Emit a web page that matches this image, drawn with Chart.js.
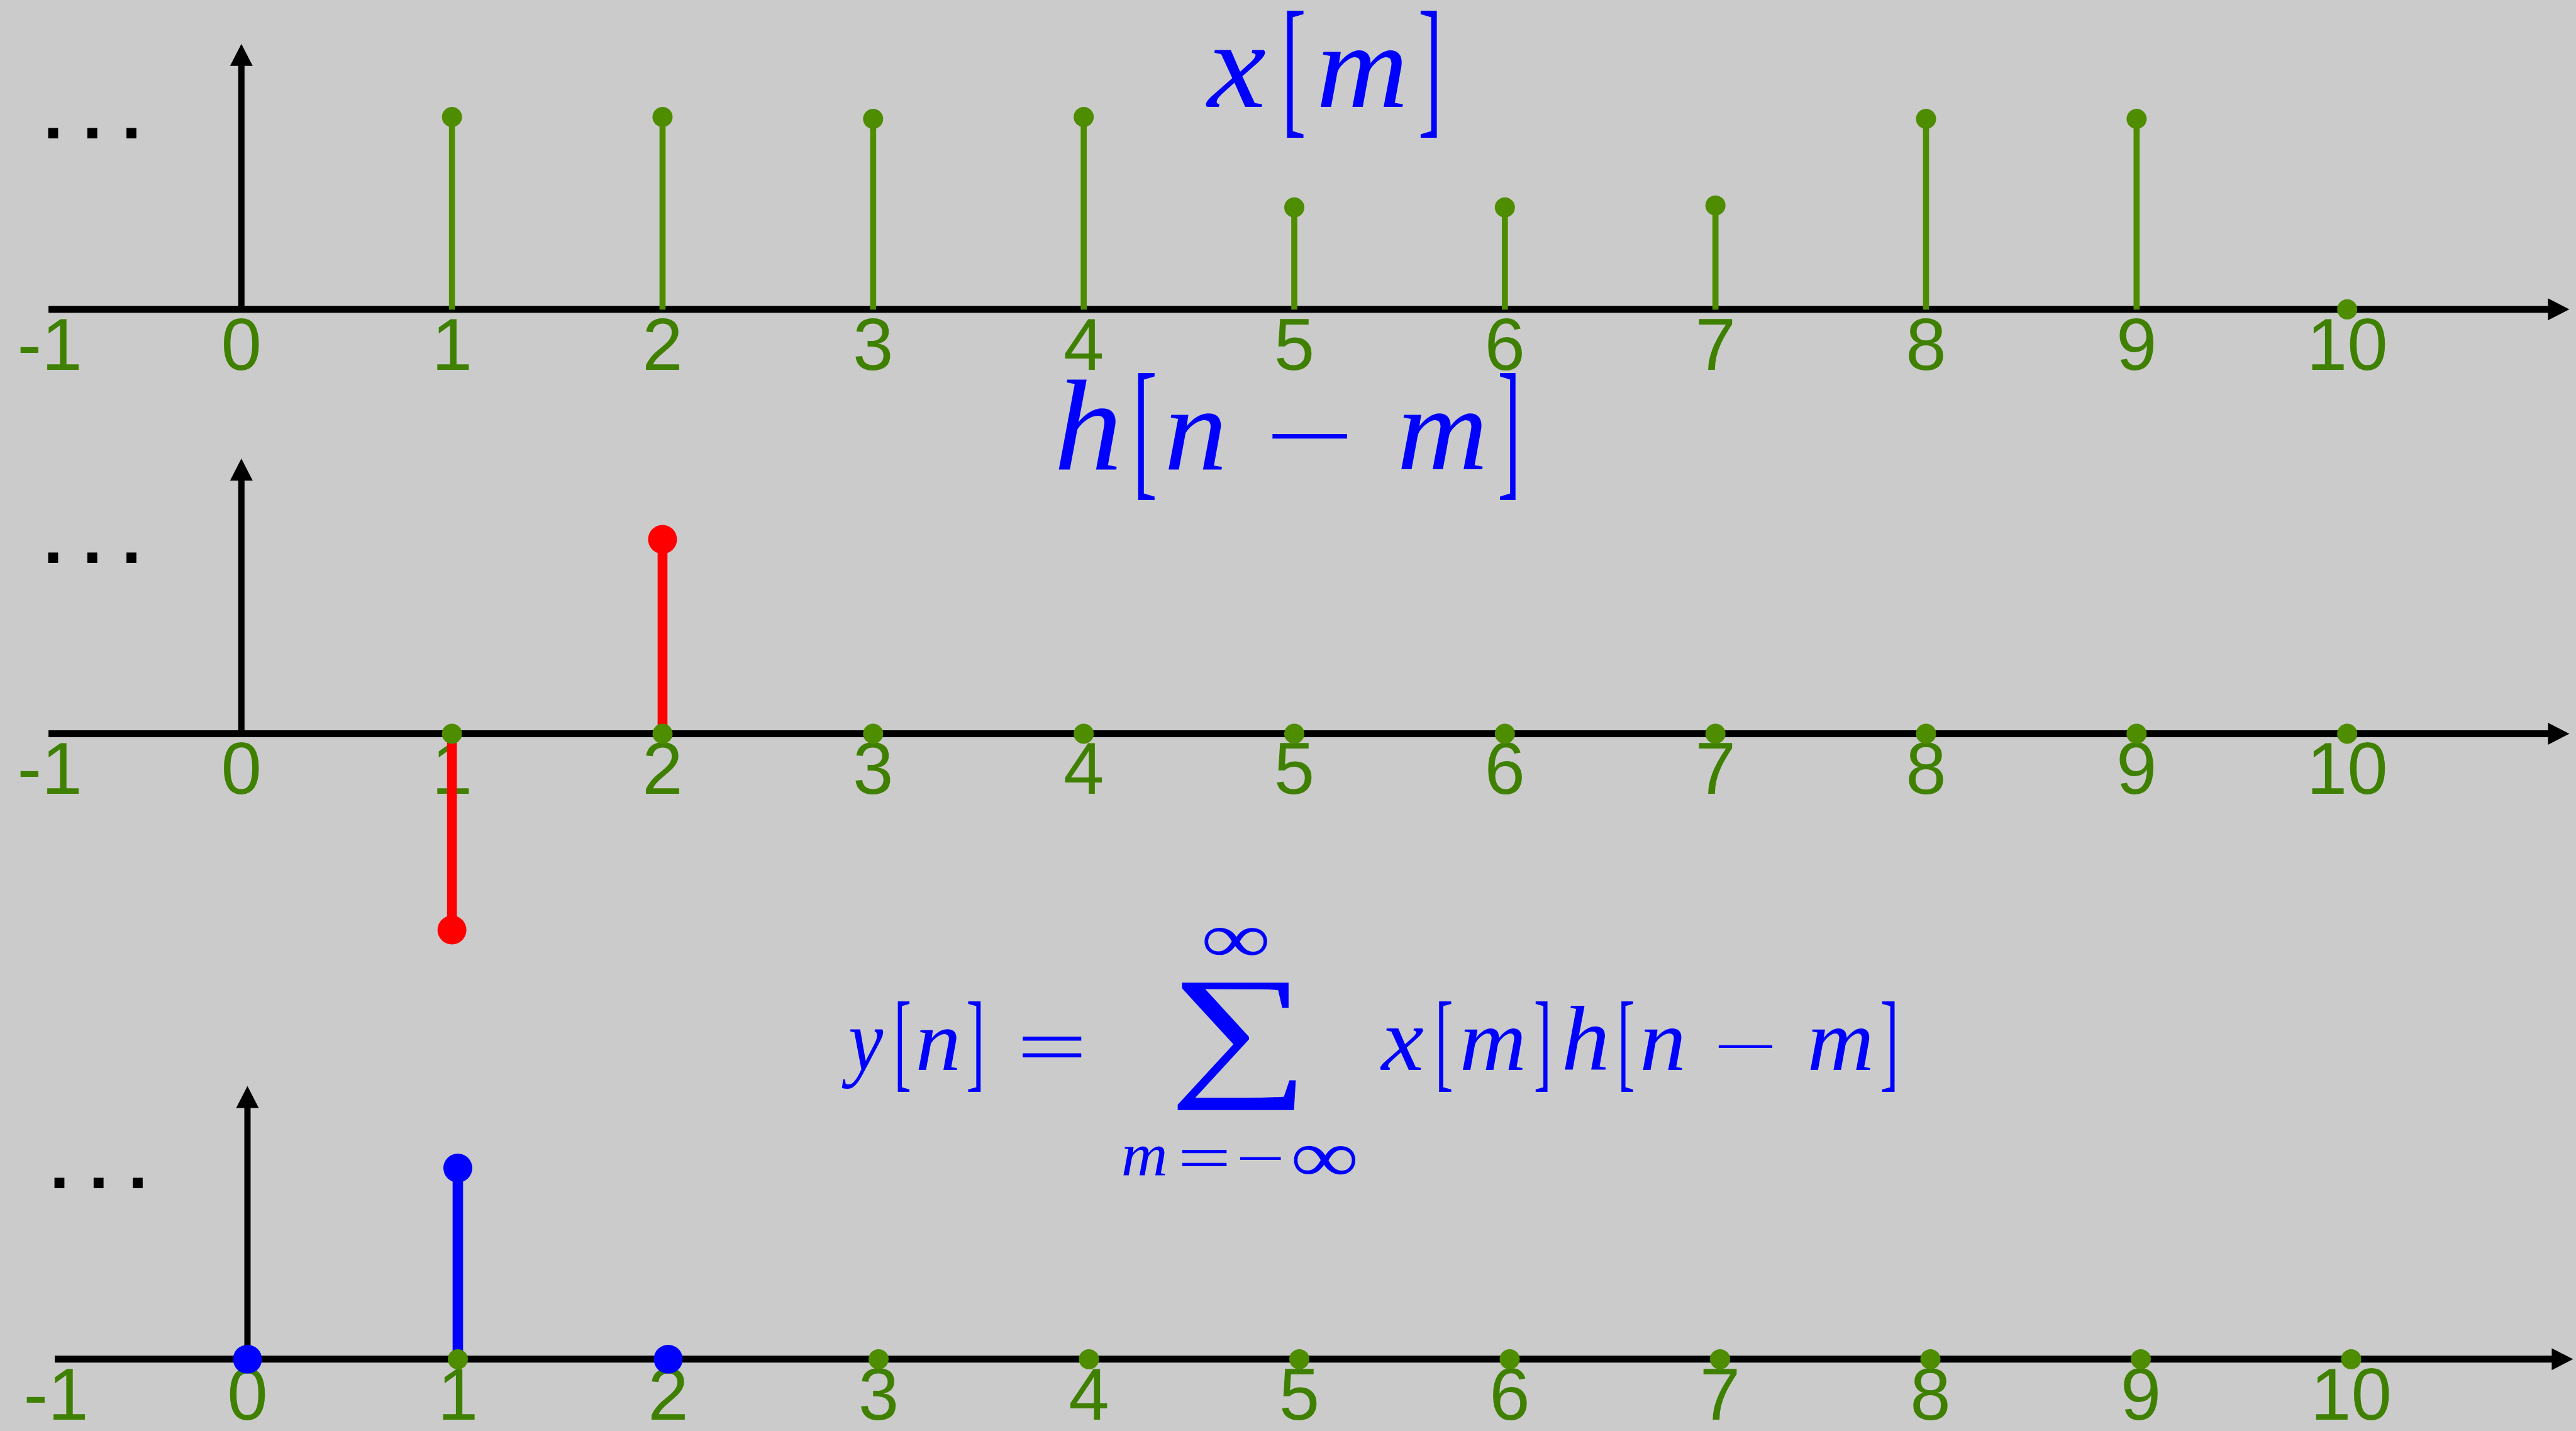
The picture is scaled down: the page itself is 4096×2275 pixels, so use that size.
<!DOCTYPE html>
<html>
<head>
<meta charset="utf-8">
<title>Convolution</title>
<script src="https://cdn.jsdelivr.net/npm/chart.js@4.4.0/dist/chart.umd.min.js"></script>
<style>
  html, body { margin: 0; padding: 0; background: #cbcbcb; overflow: hidden; }
  canvas { position: absolute; left: 0; top: 0; }
</style>
</head>
<body>
<canvas id="c1"></canvas>
<canvas id="c2"></canvas>
<canvas id="c3"></canvas>
<script>
// ---- data ----
const mIdx = [1, 2, 3, 4, 5, 6, 7, 8, 9, 10];
const xVals = [1.0, 1.0, 0.99, 1.0, 0.53, 0.53, 0.54, 0.99, 0.99, 0];
const zeroVals = [0, 0, 0, 0, 0, 0, 0, 0, 0, 0];
const hIdx = [1, 2];
const hVals = [-1.02, 1.01];
const yIdx = [0, 1, 2];
const yVals = [0, 1.0, 0];
const tickLabels = ['-1', '0', '1', '2', '3', '4', '5', '6', '7', '8', '9', '10'];
const tickPos = [-0.91, 0, 1, 2, 3, 4, 5, 6, 7, 8, 9, 10];

const GREEN = '#4e8c00';
const LABEL_GREEN = '#3f8000';
const W = window.innerWidth, H = window.innerHeight;
const S = W / 4098;          // reference pixel -> page pixel
const UNIT = 306;            // reference pixels per y unit
const STEP = 335;            // reference pixels per x unit

// formula glyphs: text, italic, ink box in reference pixels
const formulaGlyphs = [
  ['x', 1, 1915, 79, 2016, 170], ['[', 0, 2047, 17, 2074, 219],
  ['m', 1, 2086, 79, 2248, 170], [']', 0, 2260, 17, 2286, 219],

  ['h', 1, 1680, 603, 1781, 746], ['[', 0, 1810, 593, 1837, 795],
  ['n', 1, 1848, 656, 1955, 746], ['\u2212', 0, 2023, 690, 2144, 698],
  ['m', 1, 2211, 656, 2378, 746], [']', 0, 2386, 593, 2411, 795],

  ['y', 1, 1339, 1637, 1405, 1732], ['[', 0, 1428, 1593, 1447, 1737],
  ['n', 1, 1452, 1637, 1532, 1702], [']', 0, 1540, 1593, 1560, 1737],
  ['=', 0, 1626, 1649, 1721, 1682], ['\u2211', 0, 1872, 1563, 2062, 1766],
  ['\u221e', 0, 1916, 1476, 2016, 1520],
  ['m', 1, 1774, 1823, 1867, 1869], ['=', 0, 1880, 1830, 1952, 1856],
  ['\u2212', 0, 1972, 1840, 2038, 1845], ['\u221e', 0, 2058, 1823, 2156, 1869],
  ['x', 1, 2193, 1636, 2267, 1702], ['[', 0, 2289, 1593, 2309, 1737],
  ['m', 1, 2316, 1636, 2434, 1702], [']', 0, 2443, 1593, 2462, 1737],
  ['h', 1, 2486, 1601, 2558, 1702], ['[', 0, 2579, 1593, 2598, 1737],
  ['n', 1, 2606, 1636, 2684, 1702], ['\u2212', 0, 2733, 1662, 2820, 1667],
  ['m', 1, 2868, 1636, 2988, 1702], [']', 0, 2994, 1593, 3014, 1737]
];

function pts(xs, ys) { return xs.map((x, i) => ({ x: x, y: ys[i] })); }

// draw a glyph so its ink fills the given box; italic letters keep their proportions
function fitGlyph(ctx, g) {
  const [t, it, x0, y0, x1, y1] = g;
  ctx.font = (it ? 'italic ' : '') + '200px "Liberation Serif", "DejaVu Serif", serif';
  const mm = ctx.measureText(t);
  const w = mm.actualBoundingBoxLeft + mm.actualBoundingBoxRight;
  const h = mm.actualBoundingBoxAscent + mm.actualBoundingBoxDescent;
  const sy = (y1 - y0) * S / h;
  let sx = (x1 - x0) * S / w;
  let left = x0 * S;
  if (it) {
    sx = Math.min(sx, sy * 1.06);
    left = (x0 + x1) / 2 * S - w * sx / 2;
  }
  ctx.save();
  ctx.translate(left + mm.actualBoundingBoxLeft * sx, y0 * S + mm.actualBoundingBoxAscent * sy);
  ctx.scale(sx, sy);
  ctx.fillText(t, 0, 0);
  ctx.restore();
}

function axesPlugin(p) {
  return {
    id: 'stemAxes',
    beforeDatasetsDraw(chart) {
      const ctx = chart.ctx, x = chart.scales.x, y = chart.scales.y;
      const y0 = y.getPixelForValue(0), x0 = x.getPixelForValue(0);
      ctx.save();
      ctx.fillStyle = '#000';
      ctx.strokeStyle = '#000';
      // horizontal axis with arrow
      const xa = x.getPixelForValue(-0.916), xb = x.getPixelForValue(11.055);
      ctx.lineWidth = 11 * S;
      ctx.beginPath(); ctx.moveTo(xa, y0); ctx.lineTo(xb - 33 * S, y0); ctx.stroke();
      ctx.beginPath();
      ctx.moveTo(xb, y0); ctx.lineTo(xb - 34 * S, y0 - 17.5 * S); ctx.lineTo(xb - 34 * S, y0 + 17.5 * S);
      ctx.closePath(); ctx.fill();
      // vertical axis with arrow
      const yt = y.getPixelForValue(p.yTop);
      ctx.lineWidth = 10 * S;
      ctx.beginPath(); ctx.moveTo(x0, y0); ctx.lineTo(x0, yt + 34 * S); ctx.stroke();
      ctx.beginPath();
      ctx.moveTo(x0, yt); ctx.lineTo(x0 - 18 * S, yt + 35 * S); ctx.lineTo(x0 + 18 * S, yt + 35 * S);
      ctx.closePath(); ctx.fill();
      // tick labels
      ctx.font = (116 * S) + 'px "Liberation Sans", Arial, sans-serif';
      ctx.fillStyle = LABEL_GREEN;
      ctx.textAlign = 'center';
      ctx.textBaseline = 'alphabetic';
      tickPos.forEach((v, i) => ctx.fillText(tickLabels[i], x.getPixelForValue(v), y0 + 96 * S));
      // ellipsis
      ctx.font = 'bold ' + (112 * S) + 'px "Liberation Sans", Arial, sans-serif';
      ctx.fillStyle = '#000';
      ctx.textAlign = 'left';
      ctx.fillText('. . .', x.getPixelForValue(-0.94), y0 - 272 * S);
      ctx.restore();
    }
  };
}

const formulaPlugin = {
  id: 'formulas',
  afterDatasetsDraw(chart) {
    const ctx = chart.ctx;
    ctx.save();
    ctx.fillStyle = '#0000ff';
    ctx.textAlign = 'left';
    ctx.textBaseline = 'alphabetic';
    formulaGlyphs.forEach(g => fitGlyph(ctx, g));
    ctx.restore();
  }
};

function stems(xs, ys, color, width, order) {
  return { type: 'bar', data: pts(xs, ys), backgroundColor: color, borderWidth: 0,
           barThickness: width * S, grouped: false, order: order };
}
function dots(xs, ys, color, r, order) {
  return { type: 'scatter', data: pts(xs, ys), pointRadius: r * S, pointHoverRadius: r * S,
           pointBackgroundColor: color, pointBorderWidth: 0, showLine: false, order: order };
}

function makePanel(id, p, datasets, extra) {
  const cv = document.getElementById(id);
  cv.width = W; cv.height = H;
  const left = p.zeroX - STEP, right = p.zeroX + 11 * STEP;
  const top = p.zeroY - p.yMax * UNIT, bottom = p.zeroY - p.yMin * UNIT;
  return new Chart(cv, {
    type: 'scatter',
    data: { datasets: datasets },
    options: {
      responsive: false,
      animation: false,
      devicePixelRatio: 1,
      events: [],
      layout: { padding: { left: left * S, right: (4098 - right) * S, top: top * S, bottom: (2276 - bottom) * S } },
      plugins: { legend: { display: false }, tooltip: { enabled: false } },
      scales: {
        x: { type: 'linear', min: -1, max: 11, display: false, offset: false },
        y: { type: 'linear', min: p.yMin, max: p.yMax, display: false }
      }
    },
    plugins: [axesPlugin(p)].concat(extra || [])
  });
}

makePanel('c1', { zeroX: 384, zeroY: 492, yMin: -0.5, yMax: 1.5, yTop: 1.38 }, [
  stems(mIdx, xVals, GREEN, 9, 3),
  dots(mIdx, xVals, GREEN, 16, 2)
]);

makePanel('c2', { zeroX: 384, zeroY: 1167, yMin: -1.5, yMax: 1.5, yTop: 1.43 }, [
  stems(hIdx, hVals, '#ff0000', 15, 3),
  dots(mIdx, zeroVals, GREEN, 16, 2),
  dots(hIdx, hVals, '#ff0000', 23, 1)
]);

makePanel('c3', { zeroX: 394, zeroY: 2165, yMin: -0.3, yMax: 1.5, yTop: 1.43 }, [
  stems(yIdx, yVals, '#0000ff', 16, 3),
  dots(mIdx, zeroVals, GREEN, 16, 2),
  dots(yIdx, yVals, '#0000ff', 23, 1)
], [formulaPlugin]);
</script>
</body>
</html>
